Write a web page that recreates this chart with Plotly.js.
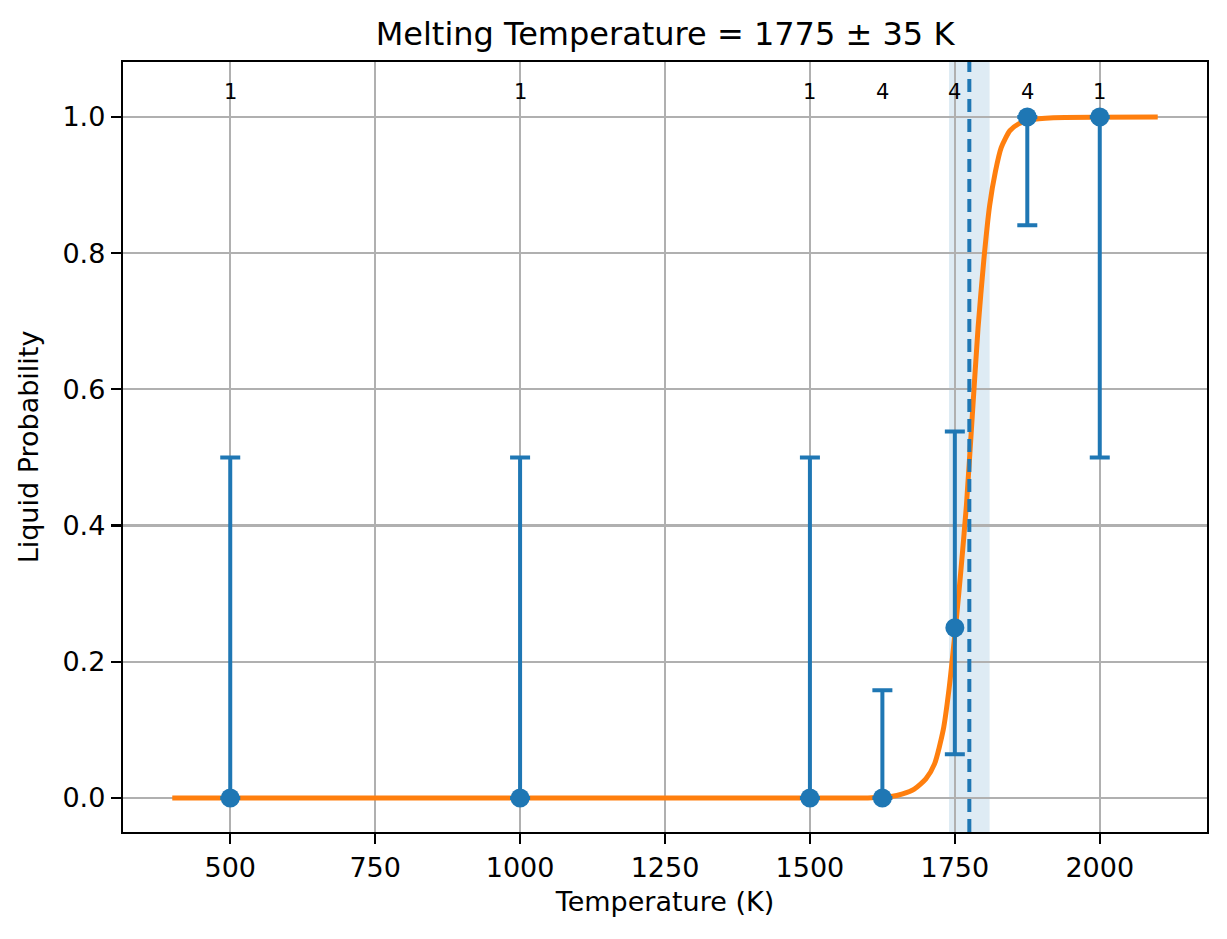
<!DOCTYPE html>
<html>
<head>
<meta charset="utf-8">
<script src="https://cdn.plot.ly/plotly-3.0.1.min.js"></script>
<style>
  html, body { margin: 0; padding: 0; background: #ffffff; }
</style>
</head>
<body>
<div id="plot"></div>
<script>
// measured points (temperature, fraction of runs that melted)
const temps = [500, 1000, 1500, 1625, 1750, 1875, 2000];
const liquidProb = [0, 0, 0, 0, 0.25, 1.0, 1.0];
const probLow = [0, 0, 0, 0, 0.064, 0.841, 0.5];
const probHigh = [0.5, 0.5, 0.5, 0.158, 0.538, 1.0, 1.0];
const counts = [1, 1, 1, 4, 4, 4, 1];

// fitted curve
const fitT = [400, 1600, 1640, 1660, 1680, 1700, 1715, 1730, 1740, 1750, 1760, 1770,
              1780, 1790, 1800, 1810, 1820, 1830, 1845, 1860, 1880, 1920, 2100];
const fitP = [0, 0, 0.002, 0.006, 0.013, 0.028, 0.05, 0.1, 0.16, 0.24, 0.33, 0.43,
              0.56, 0.69, 0.79, 0.87, 0.92, 0.955, 0.98, 0.99, 0.996, 0.999, 1];

const meltT = 1775;
const meltErr = 35;

const C0 = "#1f77b4";
const C1 = "#ff7f0e";
const FONT = '"DejaVu Sans", Arial, sans-serif';

function axisConfig(title, range, tickvals, fmt, standoff) {
  return {
    title: { text: title, font: { size: 27, family: FONT, color: "#000" }, standoff: standoff },
    range: range,
    tickmode: "array",
    tickvals: tickvals,
    tickformat: fmt,
    showgrid: true,
    gridcolor: "#b0b0b0",
    gridwidth: 2.2,
    zeroline: false,
    showline: true,
    linecolor: "#000",
    linewidth: 2.2,
    mirror: true,
    ticks: "outside",
    ticklen: 10,
    tickwidth: 2.2,
    tickcolor: "#000",
    tickfont: { size: 27, family: FONT, color: "#000" },
  };
}

const curve = {
  x: fitT,
  y: fitP,
  type: "scatter",
  mode: "lines",
  line: { color: C1, width: 5, shape: "spline", smoothing: 0.6 },
  hoverinfo: "skip",
};

const points = {
  x: temps,
  y: liquidProb,
  type: "scatter",
  mode: "markers",
  marker: { color: C0, size: 19 },
  error_y: {
    type: "data",
    symmetric: false,
    array: probHigh.map((h, i) => h - liquidProb[i]),
    arrayminus: probLow.map((l, i) => liquidProb[i] - l),
    color: C0,
    thickness: 4,
    width: 10,
  },
};

const annotations = temps.map((t, i) => ({
  x: t,
  y: 1.037,
  xref: "x",
  yref: "y",
  text: String(counts[i]),
  showarrow: false,
  xanchor: "center",
  yanchor: "middle",
  font: { size: 21, family: FONT, color: "#000" },
}));

const layout = {
  width: 1227,
  height: 939,
  paper_bgcolor: "#ffffff",
  plot_bgcolor: "#ffffff",
  showlegend: false,
  font: { family: FONT, color: "#000" },
  margin: { l: 123, r: 20, t: 62, b: 107 },
  title: {
    text: "Melting Temperature = " + meltT + " ± " + meltErr + " K",
    font: { size: 32, family: FONT, color: "#000" },
    x: 0.5,
    xref: "paper",
    xanchor: "center",
    y: 1,
    yref: "paper",
    yanchor: "bottom",
    pad: { b: 17 },
  },
  xaxis: axisConfig("Temperature (K)", [315, 2185], [500, 750, 1000, 1250, 1500, 1750, 2000], "d", 11),
  yaxis: axisConfig("Liquid Probability", [-0.05, 1.0808], [0, 0.2, 0.4, 0.6, 0.8, 1.0], ".1f", 16),
  shapes: [
    {
      type: "rect",
      xref: "x",
      yref: "paper",
      x0: meltT - meltErr,
      x1: meltT + meltErr,
      y0: 0,
      y1: 1,
      fillcolor: "rgba(31,119,180,0.15)",
      line: { width: 0 },
      layer: "below",
    },
    {
      type: "line",
      xref: "x",
      yref: "paper",
      x0: meltT,
      x1: meltT,
      y0: 0,
      y1: 1,
      line: { color: C0, width: 4, dash: "13px,7px" },
      layer: "above",
    },
  ],
  annotations: annotations,
};

Plotly.newPlot("plot", [curve, points], layout, { displayModeBar: false, staticPlot: true });
</script>
</body>
</html>
